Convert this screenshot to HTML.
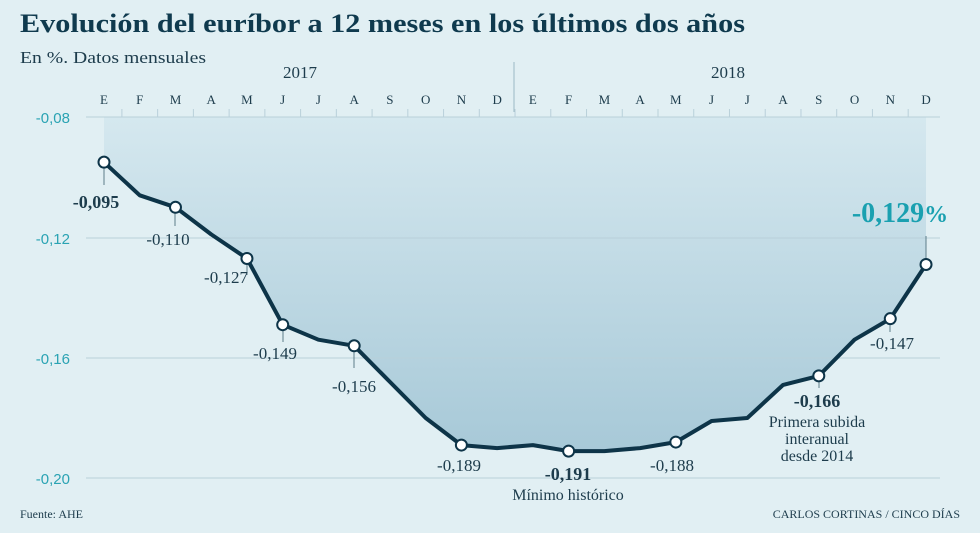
<!DOCTYPE html>
<html><head><meta charset="utf-8"><style>
body{margin:0;background:#e1eff3;}
svg{display:block;font-family:"Liberation Serif",serif;}
</style></head><body>
<svg width="980" height="533" viewBox="0 0 980 533">
<defs><linearGradient id="g" x1="0" y1="117" x2="0" y2="460" gradientUnits="userSpaceOnUse">
<stop offset="0" stop-color="#d5e8ef"/><stop offset="1" stop-color="#a6c8d7"/></linearGradient></defs>
<rect width="980" height="533" fill="#e1eff3"/>
<text x="20" y="32" font-size="26" font-weight="bold" fill="#0f3a4e" textLength="725" lengthAdjust="spacingAndGlyphs">Evolución del euríbor a 12 meses en los últimos dos años</text>
<text x="20" y="63" font-size="17" fill="#1d3c4c" textLength="186" lengthAdjust="spacingAndGlyphs">En %. Datos mensuales</text>
<text x="300" y="78" font-size="17" fill="#1d3c4c" text-anchor="middle">2017</text>
<text x="728" y="78" font-size="17" fill="#1d3c4c" text-anchor="middle">2018</text>
<line x1="514" y1="62" x2="514" y2="112" stroke="#9bb8c4"/>
<g font-size="13" fill="#1d3c4c" text-anchor="middle" id="m"></g>
<path id="area" fill="url(#g)"/>
<g stroke="#b9d0da" stroke-width="1">
<line x1="86" y1="117" x2="940" y2="117"/><line x1="86" y1="238" x2="940" y2="238"/>
<line x1="86" y1="358" x2="940" y2="358"/><line x1="86" y1="478" x2="940" y2="478"/>
</g>
<g id="ticks" stroke="#b9d0da"></g>
<g font-family="Liberation Sans,sans-serif" font-size="15" fill="#2aa3b3" text-anchor="end">
<text x="70" y="123">-0,08</text><text x="70" y="244">-0,12</text><text x="70" y="364">-0,16</text><text x="70" y="484">-0,20</text>
</g>
<g stroke="#5d7d8a" stroke-width="1">
<line x1="104" y1="162" x2="104" y2="185"/><line x1="175" y1="208" x2="175" y2="226"/>
<line x1="247" y1="259" x2="247" y2="275"/><line x1="283" y1="325" x2="283" y2="342"/>
<line x1="354" y1="346" x2="354" y2="368"/><line x1="819" y1="376" x2="819" y2="388"/>
<line x1="890" y1="320" x2="890" y2="332"/><line x1="926" y1="236" x2="926" y2="265"/>
</g>
<polyline id="ln" fill="none" stroke="#0d3448" stroke-width="4" stroke-linejoin="round"/>
<g id="dots"></g>
<g font-size="16" fill="#1d3c4c" text-anchor="middle">
<text x="96" y="208" font-weight="bold" font-size="18">-0,095</text>
<text x="168" y="245" font-size="17">-0,110</text>
<text x="226" y="283" font-size="17">-0,127</text>
<text x="275" y="359" font-size="17">-0,149</text>
<text x="354" y="392" font-size="17">-0,156</text>
<text x="459" y="471" font-size="17">-0,189</text>
<text x="568" y="480" font-weight="bold" font-size="18">-0,191</text>
<text x="568" y="500" font-size="16">Mínimo histórico</text>
<text x="672" y="471" font-size="17">-0,188</text>
<text x="817" y="407" font-weight="bold" font-size="18">-0,166</text>
<text x="817" y="427" font-size="16">Primera subida</text>
<text x="817" y="444" font-size="16">interanual</text>
<text x="817" y="461" font-size="16">desde 2014</text>
<text x="892" y="349" font-size="17">-0,147</text>
<text x="900" y="222" font-weight="bold" font-size="28" fill="#1aa0b0">-0,129<tspan font-size="24">%</tspan></text>
</g>
<text x="20" y="518" font-size="12" fill="#1d3c4c">Fuente: AHE</text>
<text x="960" y="518" font-size="12" fill="#1d3c4c" text-anchor="end">CARLOS CORTINAS / CINCO DÍAS</text>
</svg>
<script>
var v=[-.095,-.106,-.110,-.119,-.127,-.149,-.154,-.156,-.168,-.180,-.189,-.190,-.189,-.191,-.191,-.190,-.188,-.181,-.180,-.169,-.166,-.154,-.147,-.129];
var L="EFMAMJJASOND";var ns="http://www.w3.org/2000/svg";
function X(i){return 104+i*35.74}function Y(a){return 117+(-0.08-a)/0.01*30.1}
var pts=v.map(function(a,i){return X(i).toFixed(1)+","+Y(a).toFixed(1)});
document.getElementById("ln").setAttribute("points",pts.join(" "));
document.getElementById("area").setAttribute("d","M104,117 L"+pts.join(" L")+" L926,117Z");
var m=document.getElementById("m"),t=document.getElementById("ticks"),d=document.getElementById("dots");
for(var i=0;i<24;i++){var e=document.createElementNS(ns,"text");e.setAttribute("x",X(i));e.setAttribute("y",104);e.textContent=L[i%12];m.appendChild(e);
var k=document.createElementNS(ns,"line");var xx=X(i)+17.9;k.setAttribute("x1",xx);k.setAttribute("x2",xx);k.setAttribute("y1",109);k.setAttribute("y2",117);if(i<23)t.appendChild(k);}
[0,2,4,5,7,10,13,16,20,22,23].forEach(function(i){var c=document.createElementNS(ns,"circle");c.setAttribute("cx",X(i));c.setAttribute("cy",Y(v[i]));c.setAttribute("r",5.5);c.setAttribute("fill","#fff");c.setAttribute("stroke","#0d3448");c.setAttribute("stroke-width","2");d.appendChild(c);});
</script>
</body></html>
